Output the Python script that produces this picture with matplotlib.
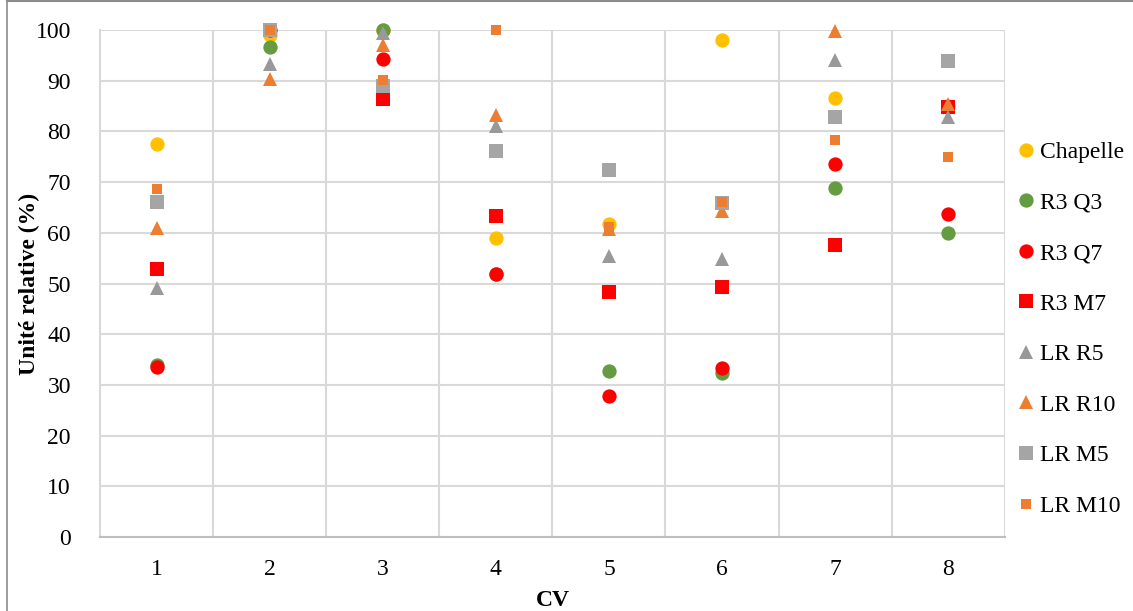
import numpy as np
import matplotlib.pyplot as plt
from matplotlib.lines import Line2D

plt.rcParams['font.family'] = ['Liberation Serif', 'DejaVu Serif']

# Data
cv = [1, 2, 3, 4, 5, 6, 7, 8]
chapelle = [77.5, 99.0, 100.0, 59.0, 61.8, 98.0, 86.5, 85.0]
r3_q3 = [34.0, 96.6, 100.0, 51.9, 32.7, 32.4, 68.9, 59.9]
r3_q7 = [33.6, 100.0, 94.3, 51.9, 27.9, 33.3, 73.5, 63.8]
r3_m7 = [52.8, 100.0, 86.3, 63.3, 48.3, 49.4, 57.5, 84.9]
lr_r5 = [49.1, 93.3, 99.4, 81.0, 55.4, 54.8, 94.0, 82.8]
lr_r10 = [61.0, 90.3, 97.0, 83.2, 60.8, 64.3, 99.8, 85.4]
lr_m5 = [66.1, 100.0, 89.0, 76.2, 72.4, 65.9, 82.9, 93.8]
lr_m10 = [68.6, 100.0, 90.2, 100.0, 61.1, 66.0, 78.3, 75.0]

series = [
    ("Chapelle", chapelle, 'o', '#FFC000', 10.3),
    ("R3 Q3", r3_q3, 'o', '#659B41', 10.3),
    ("R3 Q7", r3_q7, 'o', '#FF0000', 10.3),
    ("R3 M7", r3_m7, 's', '#FF0000', 9.7),
    ("LR R5", lr_r5, '^', '#999999', 10.3),
    ("LR R10", lr_r10, '^', '#ED7D31', 10.3),
    ("LR M5", lr_m5, 's', '#A5A5A5', 9.7),
    ("LR M10", lr_m10, 's', '#ED7D31', 6.5),
]

fig = plt.figure(figsize=(11.33, 6.11), dpi=100)
ax = fig.add_axes([0.0883, 0.1211, 0.7985, 0.8298])

for label, vals, mk, col, ms in series:
    ax.plot(cv, vals, linestyle='none', marker=mk, color=col,
            markersize=ms, markeredgewidth=0, label=label, zorder=3,
            clip_on=False)

ax.set_xlim(0.5, 8.5)
ax.set_ylim(0, 100)
ax.set_yticks(np.arange(0, 101, 10))
ax.set_xticks(cv)
ax.set_xticks(np.arange(1.5, 8.6, 1), minor=True)

ax.grid(axis='y', which='major', color='#D9D9D9', linewidth=1.5, zorder=0)
ax.grid(axis='x', which='minor', color='#D9D9D9', linewidth=1.5, zorder=0)
ax.tick_params(axis='both', which='both', length=0, labelsize=17,
               colors='#000000')
ax.tick_params(axis='y', pad=21)
ax.tick_params(axis='x', pad=16)

for side in ['top', 'right']:
    ax.spines[side].set_visible(False)
ax.spines['left'].set_color('#D9D9D9')
ax.spines['left'].set_linewidth(1.5)
ax.spines['bottom'].set_color('#BFBFBF')
ax.spines['bottom'].set_linewidth(1.5)

ax.set_ylabel("Unité relative (%)", fontsize=17, fontweight='bold')
ax.yaxis.set_label_coords(-0.066, 0.5)
ax.set_xlabel("CV", fontsize=17, fontweight='bold')
ax.xaxis.set_label_coords(0.5, -0.104)

ax.legend(loc='center left', bbox_to_anchor=(1.0, 0.41), frameon=False,
          fontsize=17, handletextpad=0.2, labelspacing=1.23, borderaxespad=0.1,
          handlelength=0.8)

# Frame of the original chart area (cropped)
fig.add_artist(Line2D([7 / 1133, 7 / 1133], [0, 1], color='#8C8C8C', linewidth=1.2))
fig.add_artist(Line2D([7 / 1133, 1], [0.999, 0.999], color='#8C8C8C', linewidth=1.5))

fig.savefig('out.png', dpi=100)
